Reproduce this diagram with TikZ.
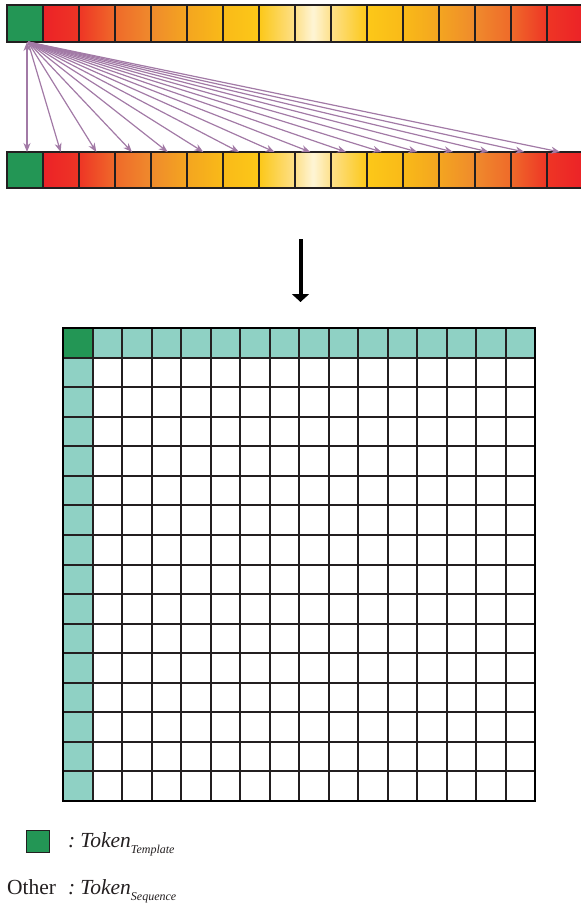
\documentclass[tikz,border=0pt]{standalone}
\usepackage{fontspec}
\setmainfont{Liberation Serif}
\usetikzlibrary{arrows.meta}
\definecolor{r0}{HTML}{EC2227}
\definecolor{r1}{HTML}{EE3525}
\definecolor{r2}{HTML}{EF6A2A}
\definecolor{r3}{HTML}{EF8A2C}
\definecolor{r4}{HTML}{F4A520}
\definecolor{r5}{HTML}{F9BA18}
\definecolor{r6}{HTML}{FCC818}
\definecolor{r7}{HTML}{FDE08A}
\definecolor{r8}{HTML}{FEF5D5}
\definecolor{tokgreen}{HTML}{239655}
\definecolor{tealc}{HTML}{8FD1C4}
\definecolor{lineC}{HTML}{231F20}
\definecolor{arrC}{HTML}{A27AA6}
\definecolor{txtC}{HTML}{231F20}
\newcommand\mysubfont{\fontsize{12}{13}\selectfont\itshape}
\pgfdeclarehorizontalshading{barshade}{100bp}{color(0bp)=(r0); color(25bp)=(r0); color(28.333bp)=(r1); color(31.667bp)=(r2); color(35bp)=(r3); color(38.333bp)=(r4); color(41.667bp)=(r5); color(45bp)=(r6); color(48.333bp)=(r7); color(50bp)=(r8); color(51.667bp)=(r7); color(55bp)=(r6); color(58.333bp)=(r5); color(61.667bp)=(r4); color(65bp)=(r3); color(68.333bp)=(r2); color(71.667bp)=(r1); color(75bp)=(r0); color(100bp)=(r0)}
\tikzset{
  barcell/.style={draw=lineC, line width=1.3pt, minimum width=36pt, minimum height=37pt, inner sep=0pt, outer sep=0pt},
  arr/.style={draw=arrC, line width=1.2pt, -{Stealth[length=9pt,width=7pt]}},
  gridline/.style={draw=lineC, line width=1.8pt},
  legtext/.style={inner sep=0pt, anchor=base west, text=txtC, font=\fontsize{21.5}{25}\selectfont},
}
\begin{document}
\begin{tikzpicture}[x=1pt,y=-1pt]
\useasboundingbox (0,0) rectangle (581,903);
% bars background
\shade[shading=barshade] (43,5) rectangle (583,42);
\shade[shading=barshade] (43,152) rectangle (583,188);
\fill[tokgreen] (7,5) rectangle (43,42);
\fill[tokgreen] (7,152) rectangle (43,188);
\foreach \i in {0,...,15} {
  \node[barcell] (t\i) at ({25+36*\i},23.5) {};
  \node[barcell, minimum height=36pt] (b\i) at ({25+36*\i},170) {};
}
% attention arrows
\draw[draw=arrC, line width=1.2pt, {Stealth[length=9pt,width=7pt]}-{Stealth[length=9pt,width=7pt]}] ([xshift=2pt]t0.south) -- ([xshift=2pt]b0.north);
\foreach \i in {1,...,15} {
  \draw[arr] ([xshift=3pt]t0.south) -- ([xshift={-0.33pt*\i}]b\i.north);
}
% big arrow
\coordinate (bigA) at (300.5,239);
\coordinate (bigB) at (300.5,302);
\draw[line width=4pt, -{Triangle[length=8pt,width=17pt]}] (bigA) -- (bigB);
% matrix
\fill[tealc] (63,328) rectangle (535,358);
\fill[tealc] (63,328) rectangle (93,801);
\fill[tokgreen] (63,328) rectangle (93,358);
\foreach \k in {1,...,15} {
  \draw[gridline] ({round(63+29.5*\k)},328) -- ({round(63+29.5*\k)},801);
  \draw[gridline] (63,{round(328+29.5625*\k)}) -- (535,{round(328+29.5625*\k)});
}
\draw[draw=black, line width=2.2pt] (63,328) rectangle (535,801);
% legend
\node[draw=lineC, line width=1.2pt, fill=tokgreen, minimum width=23pt, minimum height=22pt, inner sep=0pt] (legsq) at (38,841.5) {};
\node[legtext] (leg1) at (68,847) {\itshape :\kern5pt Token\raisebox{-6pt}{\mysubfont Template}};
\node[legtext] (leg2o) at (7,894) {Other};
\node[legtext] (leg2) at (68,894) {\itshape :\kern5pt Token\raisebox{-6pt}{\mysubfont Sequence}};
\end{tikzpicture}
\end{document}
